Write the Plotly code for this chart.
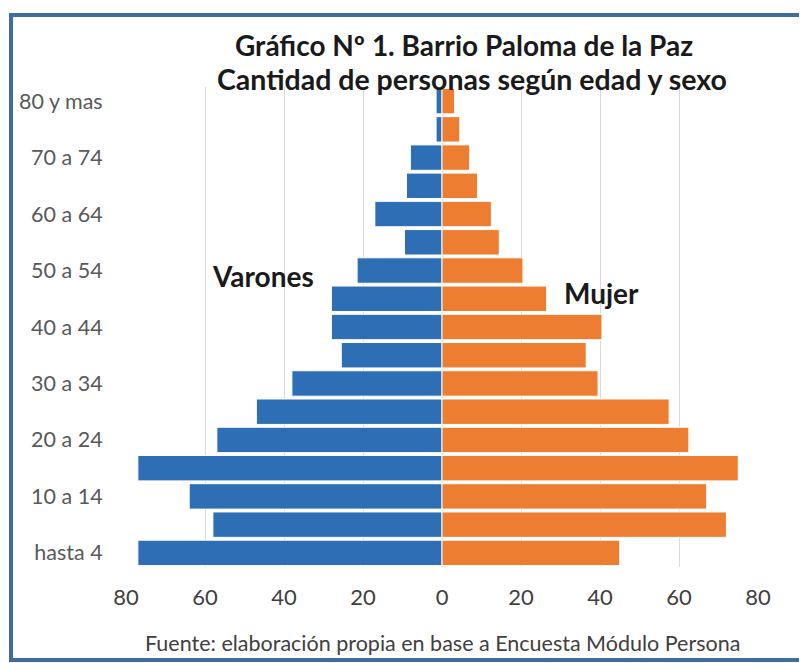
import plotly.graph_objects as go

# ---- data ----
age_groups = ["hasta 4", "5 a 9", "10 a 14", "15 a 19", "20 a 24", "25 a 29",
              "30 a 34", "35 a 39", "40 a 44", "45 a 49", "50 a 54", "55 a 59",
              "60 a 64", "65 a 69", "70 a 74", "75 a 79", "80 y mas"]
varones = [77, 58, 64, 77, 57, 47, 38, 25.5, 28, 28, 21.5, 9.5, 17, 9, 8, 1.5, 1.5]
mujeres = [45, 72, 67, 75, 62.5, 57.5, 39.5, 36.5, 40.5, 26.5, 20.5, 14.5, 12.5, 9, 7, 4.5, 3.2]
x_ticks = [-80, -60, -40, -20, 0, 20, 40, 60, 80]
x_tick_text = ["80", "60", "40", "20", "0", "20", "40", "60", "80"]
shown_age_labels = age_groups[::2]

title_line1 = "Gráfico Nº 1. Barrio Paloma de la Paz"
title_line2 = "Cantidad de personas según edad y sexo"
footer = "Fuente: elaboración propia en base a Encuesta Módulo Persona"

# ---- layout geometry (pixels, in screenshot coordinates; page body has 8px offset) ----
OFF = 8
W, H = 807 - OFF, 663 - OFF
L, R, T, B = 126, 758, 87, 567  # screenshot coords of the plot area
def px(x):
    return (x - L) / (R - L)
def py(y):
    return (B - y) / (B - T)

FONT = "Lato, Carlito, Calibri, sans-serif"
BLUE = "#2E6EB5"
ORANGE = "#ED7D31"

fig = go.Figure()
fig.add_trace(go.Bar(
    y=age_groups, x=[-v for v in varones], orientation="h", name="Varones",
    marker=dict(color=BLUE, line=dict(color="white", width=1)),
))
fig.add_trace(go.Bar(
    y=age_groups, x=mujeres, orientation="h", name="Mujer",
    marker=dict(color=ORANGE, line=dict(color="white", width=1)),
))

fig.update_layout(
    width=W, height=H,
    margin=dict(l=L - OFF, r=W - (R - OFF), t=T - OFF, b=H - (B - OFF), autoexpand=False),
    barmode="overlay", bargap=0.1,
    showlegend=False,
    paper_bgcolor="white", plot_bgcolor="white",
    font=dict(family=FONT, color="#595959"),
    xaxis=dict(range=[-80, 80], tickvals=x_ticks, ticktext=x_tick_text,
               showgrid=True, gridcolor="#D9D9D9", gridwidth=1, zeroline=False,
               showline=False, ticks="outside", ticklen=11, tickcolor="rgba(0,0,0,0)",
               tickfont=dict(size=22, color="#404040", family=FONT), fixedrange=True,
               automargin=False),
    yaxis=dict(type="category", categoryorder="array", categoryarray=age_groups,
               tickvals=shown_age_labels, ticktext=shown_age_labels,
               showgrid=False, zeroline=False, showline=False,
               ticks="outside", ticklen=18, tickcolor="rgba(0,0,0,0)",
               tickfont=dict(size=21.5, color="#595959", family=FONT), fixedrange=True,
               automargin=False),
)

annos = [
    dict(text="<b>" + title_line1 + "</b>", x=px(464), y=py(45), size=28, color="#1a1a1a"),
    dict(text="<b>" + title_line2 + "</b>", x=px(472), y=py(79), size=28.5, color="#1a1a1a"),
    dict(text="<b>Varones</b>", x=px(263), y=py(276), size=28, color="#1a1a1a"),
    dict(text="<b>Mujer</b>", x=px(601), y=py(293), size=28, color="#1a1a1a"),
    dict(text=footer, x=px(442), y=py(643), size=21.5, color="#404040"),
]
for a in annos:
    fig.add_annotation(text=a["text"], x=a["x"], y=a["y"], xref="paper", yref="paper",
                       xanchor="center", yanchor="middle", showarrow=False,
                       font=dict(size=a["size"], color=a["color"], family=FONT))

# frame around the chart
fig.add_shape(type="rect", xref="paper", yref="paper",
              x0=px(11), x1=px(815), y0=py(660), y1=py(15),
              line=dict(color="#3F6E9E", width=4), fillcolor="rgba(0,0,0,0)", layer="above")

fig.write_html("out.html")
